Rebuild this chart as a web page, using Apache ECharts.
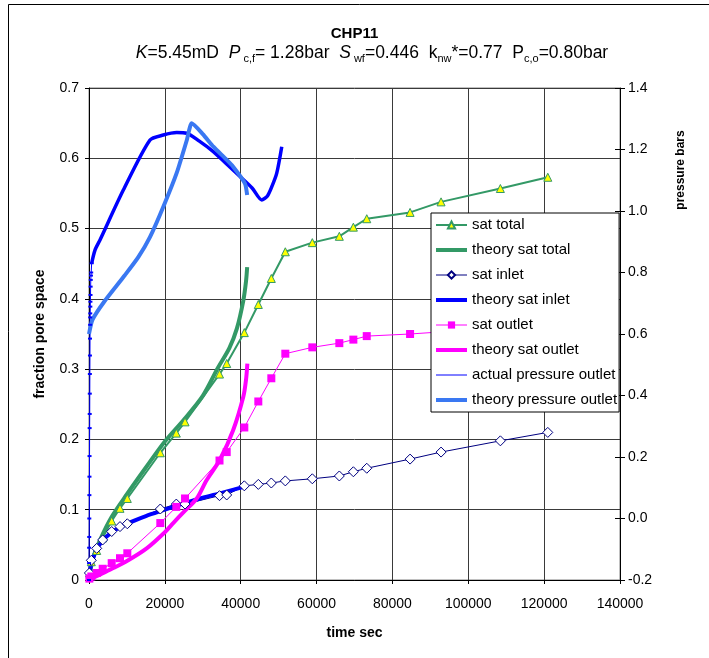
<!DOCTYPE html>
<html>
<head>
<meta charset="utf-8">
<title>CHP11</title>
<script src="https://cdn.jsdelivr.net/npm/echarts/dist/echarts.min.js"></script>
<style>
	html, body { margin: 0; padding: 0; background: #fff; }
	#main { width: 709px; height: 658px; }
</style>
</head>
<body>
<div id="main"></div>
<script>
// measured times (s) shared by the three saturation series
var satTime = [100, 607, 2030, 3613, 5986, 8175, 10100, 18800, 23020, 25320, 34410, 36310, 40950,
	44640, 48070, 51760, 58880, 66000, 69700, 73230, 84650, 92820, 108460, 120960];
var satTotal = [0.01, 0.026, 0.042, 0.060, 0.084, 0.102, 0.116, 0.181, 0.209, 0.225, 0.293, 0.308, 0.352,
	0.392, 0.429, 0.467, 0.480, 0.489, 0.502, 0.514, 0.523, 0.538, 0.557, 0.573];
var satInlet = [0.01, 0.028, 0.045, 0.057, 0.069, 0.076, 0.080, 0.101, 0.108, 0.108, 0.120, 0.121, 0.134,
	0.136, 0.138, 0.141, 0.144, 0.148, 0.154, 0.159, 0.172, 0.182, 0.198, 0.210];
var satOutlet = [0.002, 0.005, 0.010, 0.016, 0.024, 0.031, 0.038, 0.081, 0.104, 0.116, 0.170, 0.182, 0.217,
	0.254, 0.287, 0.322, 0.331, 0.337, 0.342, 0.347, 0.350, 0.353, 0.358, 0.362];

// theory curves
var thTotalTime = [0, 1000, 3000, 6000, 10000, 15000, 20000, 25000, 30000, 34000, 37000, 39000, 40700, 41400, 41700];
var thTotal = [0, 0.03, 0.058, 0.09, 0.122, 0.16, 0.197, 0.228, 0.262, 0.302, 0.33, 0.358, 0.398, 0.425, 0.445];
var thInletTime = [0, 500, 1500, 3000, 6000, 10000, 15000, 20000, 25000, 30000, 35000, 41700];
var thInlet = [0, 0.02, 0.037, 0.052, 0.068, 0.08, 0.091, 0.1, 0.109, 0.117, 0.124, 0.134];
var thOutletTime = [0, 3000, 6400, 10000, 15200, 20000, 22200, 25000, 28400, 31000, 34500, 38000, 40700, 41400, 41750];
var thOutlet = [0, 0.008, 0.017, 0.027, 0.045, 0.068, 0.081, 0.097, 0.116, 0.142, 0.171, 0.213, 0.261, 0.285, 0.308];

// pressure (right axis, bar)
var presEarlyTime = [0, 20, 40, 60, 80, 100, 120, 140, 170, 190, 210, 230, 250, 270, 290, 310, 330, 350, 370,
	400, 430, 470, 520, 580, 700];
var presEarly = [-0.2, -0.145, -0.095, -0.06, 0.0, 0.076, 0.136, 0.203, 0.294, 0.34, 0.406, 0.47, 0.53, 0.585,
	0.63, 0.654, 0.667, 0.689, 0.705, 0.727, 0.754, 0.776, 0.79, 0.8, 0.83];
var presTime = [700, 1580, 2900, 9050, 16090, 19590, 23130, 25760, 29000, 32780, 36000, 39820, 43000, 45540,
	47000, 48200, 49500, 50820];
var pres = [0.83, 0.873, 0.906, 1.068, 1.231, 1.247, 1.255, 1.253, 1.228, 1.193, 1.156, 1.112, 1.075, 1.036,
	1.048, 1.079, 1.123, 1.209];
var thPresTime = [0, 900, 4000, 9500, 13000, 16100, 19600, 23100, 25800, 27100, 30000, 32800, 36000, 38000, 41100, 41700];
var thPres = [0.6, 0.646, 0.705, 0.792, 0.85, 0.916, 1.014, 1.123, 1.231, 1.285, 1.25, 1.209, 1.17, 1.144, 1.09, 1.052];

var xTicks = [0, 20000, 40000, 60000, 80000, 100000, 120000, 140000];

function pairs(xs, ys) {
	var out = [];
	for (var i = 0; i < xs.length; i++) {
		out.push([xs[i], ys[i]]);
	}
	return out;
}

var FONT = "Arial, 'Liberation Sans', sans-serif";
var gridColor = '#3a3a3a';
var noMark = { opacity: 0 };

var chart = echarts.init(document.getElementById('main'), null, { renderer: 'canvas' });

var option = {
	animation: false,
	backgroundColor: '#fff',
	textStyle: { fontFamily: FONT },
	title: {
		text: 'CHP11',
		left: 'center',
		top: 21,
		textStyle: { fontSize: 15, fontWeight: 'bold', color: '#000', fontFamily: FONT }
	},
	grid: {
		left: 89, right: 89, top: 88, bottom: 78,
		show: true, borderColor: '#808080', borderWidth: 1
	},
	legend: {
		orient: 'vertical',
		left: 431,
		top: 213,
		z: 10,
		backgroundColor: '#fff',
		borderColor: '#000',
		borderWidth: 1,
		padding: [4, 2, 4, 3],
		itemWidth: 31,
		itemHeight: 9,
		itemGap: 9,
		textStyle: { fontSize: 15, color: '#000', lineHeight: 16, fontFamily: FONT },
		data: [
			{ name: 'sat total', lineStyle: { width: 2 } },
			{ name: 'theory sat total', itemStyle: noMark, lineStyle: { width: 4 } },
			{ name: 'sat inlet', lineStyle: { width: 1 } },
			{ name: 'theory sat inlet', itemStyle: noMark, lineStyle: { width: 4 } },
			{ name: 'sat outlet', lineStyle: { width: 1 } },
			{ name: 'theory sat outlet', itemStyle: noMark, lineStyle: { width: 4 } },
			{ name: 'actual pressure outlet', itemStyle: noMark, lineStyle: { width: 1 } },
			{ name: 'theory pressure outlet', itemStyle: noMark, lineStyle: { width: 4 } }
		]
	},
	xAxis: {
		type: 'value',
		min: xTicks[0],
		max: xTicks[xTicks.length - 1],
		interval: 20000,
		name: 'time sec',
		nameLocation: 'middle',
		nameGap: 46,
		nameTextStyle: { fontSize: 14, fontWeight: 'bold', color: '#000' },
		axisLine: { lineStyle: { color: '#000' } },
		axisTick: { show: true, length: 4, lineStyle: { color: '#000' } },
		axisLabel: {
			fontSize: 14, color: '#000', margin: 17,
			formatter: function (v) { return String(v); }
		},
		splitLine: { show: true, lineStyle: { color: gridColor } }
	},
	yAxis: [{
		type: 'value',
		min: 0, max: 0.7, interval: 0.1,
		name: 'fraction pore space',
		nameLocation: 'middle',
		nameRotate: 90,
		nameGap: 42,
		nameTextStyle: { fontSize: 14, fontWeight: 'bold', color: '#000' },
		axisLine: { show: true, lineStyle: { color: '#000' } },
		axisTick: { show: true, length: 4, lineStyle: { color: '#000' } },
		axisLabel: { fontSize: 14, color: '#000', margin: 10 },
		splitLine: { show: true, lineStyle: { color: gridColor } }
	}, {
		type: 'value',
		position: 'right',
		min: -0.2, max: 1.4, interval: 0.2,
		axisLine: { show: true, lineStyle: { color: '#000' } },
		axisTick: { show: true, length: 5, lineStyle: { color: '#000' } },
		axisLabel: {
			fontSize: 14, color: '#000', margin: 8,
			formatter: function (v) { return v.toFixed(1); }
		},
		splitLine: { show: false }
	}, {
		// inner half of the crossing ticks on the pressure axis
		type: 'value',
		position: 'right',
		min: -0.2, max: 1.4, interval: 0.2,
		axisLine: { show: false },
		axisTick: { show: true, inside: true, length: 5, lineStyle: { color: '#000' } },
		axisLabel: { show: false },
		splitLine: { show: false }
	}],
	graphic: [{
		// outer chart frame
		type: 'rect',
		shape: { x: 8.5, y: 4.5, width: 760, height: 720 },
		style: { fill: null, stroke: '#000', lineWidth: 1 },
		silent: true
	}, {
		type: 'text',
		x: 372, y: 53,
		style: {
			text: '{i|K}{n|=5.45mD  }{i|P}{s| c,f}{n|= 1.28bar  }{i|S}{s| wf}{n|=0.446  k}{s|nw}{n|*=0.77  P}{s|c,o}{n|=0.80bar}',
			align: 'center',
			verticalAlign: 'middle',
			rich: {
				n: { fontSize: 17.5, fontFamily: FONT, fill: '#000', lineHeight: 22, verticalAlign: 'middle' },
				i: { fontSize: 17.5, fontFamily: FONT, fontStyle: 'italic', fill: '#000', lineHeight: 22, verticalAlign: 'middle' },
				s: { fontSize: 11, fontFamily: FONT, fill: '#000', lineHeight: 11, verticalAlign: 'bottom' }
			}
		}
	}, {
		type: 'text',
		x: 681, y: 170,
		rotation: Math.PI / 2,
		style: {
			text: 'pressure bars',
			font: 'bold 12px ' + FONT,
			fill: '#000',
			align: 'center',
			verticalAlign: 'middle'
		}
	}],
	series: [{
		name: 'sat total',
		type: 'line',
		data: pairs(satTime, satTotal),
		symbol: 'triangle',
		symbolSize: 8,
		itemStyle: { color: '#ffff00', borderColor: '#339966', borderWidth: 1 },
		lineStyle: { color: '#339966', width: 2 }
	}, {
		name: 'theory sat total',
		type: 'line',
		data: pairs(thTotalTime, thTotal),
		showSymbol: false,
		symbol: 'none',
		smooth: 0.3,
		itemStyle: { color: '#339966' },
		lineStyle: { color: '#339966', width: 4 }
	}, {
		name: 'sat inlet',
		type: 'line',
		data: pairs(satTime, satInlet),
		symbol: 'diamond',
		symbolSize: 10,
		itemStyle: { color: '#fff', borderColor: '#000080', borderWidth: 1 },
		lineStyle: { color: '#000080', width: 1 }
	}, {
		name: 'theory sat inlet',
		type: 'line',
		data: pairs(thInletTime, thInlet),
		showSymbol: false,
		symbol: 'none',
		smooth: 0.3,
		itemStyle: { color: '#0000ff' },
		lineStyle: { color: '#0000ff', width: 4 }
	}, {
		name: 'sat outlet',
		type: 'line',
		data: pairs(satTime, satOutlet),
		symbol: 'rect',
		symbolSize: 8,
		itemStyle: { color: '#ff00ff' },
		lineStyle: { color: '#ff00ff', width: 1 }
	}, {
		name: 'theory sat outlet',
		type: 'line',
		data: pairs(thOutletTime, thOutlet),
		showSymbol: false,
		symbol: 'none',
		smooth: 0.3,
		itemStyle: { color: '#ff00ff' },
		lineStyle: { color: '#ff00ff', width: 4 }
	}, {
		name: 'actual pressure outlet',
		type: 'line',
		yAxisIndex: 1,
		data: pairs(presEarlyTime, presEarly),
		symbol: 'rect',
		symbolSize: [4, 2],
		itemStyle: { color: '#0000ff' },
		lineStyle: { color: '#0000ff', width: 1 }
	}, {
		// dense logged points, drawn as a heavy line
		name: 'actual pressure outlet',
		type: 'line',
		yAxisIndex: 1,
		data: pairs(presTime, pres),
		showSymbol: false,
		symbol: 'none',
		smooth: 0.25,
		itemStyle: { color: '#0000ff' },
		lineStyle: { color: '#0000ff', width: 3.5 }
	}, {
		name: 'theory pressure outlet',
		type: 'line',
		yAxisIndex: 1,
		data: pairs(thPresTime, thPres),
		showSymbol: false,
		symbol: 'none',
		smooth: 0.2,
		itemStyle: { color: '#3366ff' },
		lineStyle: { color: '#3a78f2', width: 4 }
	}]
};

chart.setOption(option);
</script>
</body>
</html>
